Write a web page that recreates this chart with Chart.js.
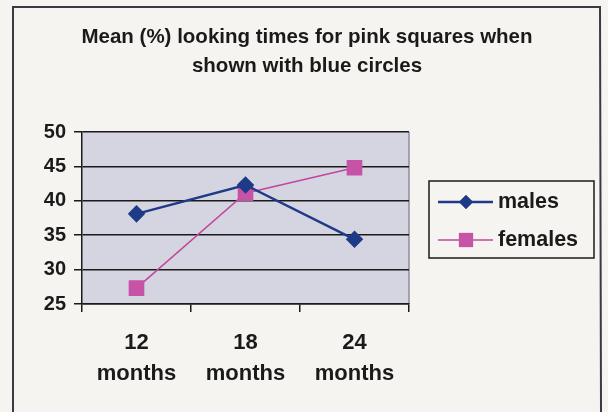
<!DOCTYPE html>
<html>
<head>
<meta charset="utf-8">
<script src="https://cdn.jsdelivr.net/npm/chart.js@4/dist/chart.umd.min.js"></script>
<style>
  html, body { margin: 0; padding: 0; background: #f6f4f0; }
  canvas { display: block; }
</style>
</head>
<body>
<canvas id="chart" width="608" height="412"></canvas>
<script>
// data
const categories = [['12', 'months'], ['18', 'months'], ['24', 'months']];
const males = [38.1, 42.3, 34.4];
const females = [27.3, 41.1, 44.8];
const yTicks = [25, 30, 35, 40, 45, 50];
const titleLines = ['Mean (%) looking times for pink squares when', 'shown with blue circles'];

const FONT = '"Liberation Sans", Arial, sans-serif';
const MALE_COLOR = '#1f3a86';
const FEMALE_COLOR = '#c2479c';
const INK = '#1a1a1a';

// page background, outer frame, title and the grey plot area
const backdrop = {
    id: 'backdrop',
    beforeDraw(chart) {
        const ctx = chart.ctx;
        const a = chart.chartArea;
        ctx.save();
        ctx.fillStyle = '#f6f4f0';
        ctx.fillRect(0, 0, chart.width, chart.height);
        ctx.strokeStyle = '#3a3a44';
        ctx.lineWidth = 2;
        ctx.beginPath();
        ctx.moveTo(13, 412);
        ctx.lineTo(13, 7);
        ctx.lineTo(600, 7);
        ctx.lineTo(601, 412);
        ctx.stroke();

        // title is centred on the whole frame, not on the plot
        ctx.fillStyle = INK;
        ctx.font = 'bold 20.5px ' + FONT;
        ctx.textAlign = 'center';
        ctx.textBaseline = 'middle';
        titleLines.forEach((t, i) => ctx.fillText(t, 307, 37 + i * 29));

        ctx.fillStyle = '#d4d5e1';
        ctx.fillRect(a.left, a.top, a.right - a.left, a.bottom - a.top);
        ctx.strokeStyle = '#8c8c9c';
        ctx.lineWidth = 1.5;
        ctx.beginPath();
        ctx.moveTo(a.right, a.top);
        ctx.lineTo(a.right, a.bottom);
        ctx.stroke();
        ctx.restore();
    }
};

// legend box with line + marker samples, like the spreadsheet one
const sideLegend = {
    id: 'sideLegend',
    afterDraw(chart) {
        const ctx = chart.ctx;
        ctx.save();
        ctx.strokeStyle = INK;
        ctx.lineWidth = 1.5;
        ctx.strokeRect(429, 181, 165, 77);
        const rows = [[202, 0], [240, 1]];
        rows.forEach(([y, i]) => {
            const ds = chart.data.datasets[i];
            ctx.strokeStyle = ds.borderColor;
            ctx.lineWidth = ds.borderWidth;
            ctx.beginPath();
            ctx.moveTo(438, y);
            ctx.lineTo(493, y);
            ctx.stroke();
            ctx.fillStyle = ds.pointBackgroundColor;
            Chart.helpers.drawPoint(ctx, {
                pointStyle: ds.pointStyle,
                radius: ds.pointRadius,
                borderWidth: 0,
                rotation: 0
            }, 466, y);
            ctx.fill();
            ctx.fillStyle = INK;
            ctx.font = 'bold 21.5px ' + FONT;
            ctx.textBaseline = 'middle';
            ctx.textAlign = 'left';
            ctx.fillText(ds.label, 498, y);
        });
        ctx.restore();
    }
};

new Chart(document.getElementById('chart'), {
    type: 'line',
    data: {
        labels: categories,
        datasets: [{
            label: 'males',
            data: males,
            borderColor: MALE_COLOR,
            backgroundColor: MALE_COLOR,
            pointBackgroundColor: MALE_COLOR,
            pointBorderColor: MALE_COLOR,
            borderWidth: 2.5,
            pointStyle: 'rectRot',
            pointRadius: 7,
            pointHoverRadius: 7,
            tension: 0
        }, {
            label: 'females',
            data: females,
            borderColor: FEMALE_COLOR,
            backgroundColor: '#c653a6',
            pointBackgroundColor: '#c653a6',
            pointBorderColor: '#c653a6',
            borderWidth: 1.5,
            pointStyle: 'rect',
            pointRadius: 10,
            pointHoverRadius: 10,
            tension: 0
        }]
    },
    options: {
        responsive: false,
        animation: false,
        devicePixelRatio: 1,
        layout: { padding: { left: 0, right: 199, top: 132, bottom: 0 } },
        plugins: {
            legend: { display: false },
            tooltip: { enabled: false },
            title: { display: false }
        },
        scales: {
            x: {
                offset: true,
                afterFit: (s) => { s.height = 108; },
                grid: {
                    offset: true,
                    drawOnChartArea: false,
                    drawTicks: true,
                    tickLength: 8,
                    tickColor: INK,
                    lineWidth: 1.5
                },
                border: { display: true, color: INK, width: 1.5 },
                ticks: {
                    color: INK,
                    padding: 16,
                    maxRotation: 0,
                    autoSkip: false,
                    font: { family: FONT, size: 22, weight: 'bold', lineHeight: 1.38 }
                }
            },
            y: {
                min: yTicks[0],
                max: yTicks[yTicks.length - 1],
                afterFit: (s) => { s.width = 82; },
                afterBuildTicks: (s) => { s.ticks = yTicks.map(v => ({ value: v })); },
                grid: {
                    color: INK,
                    lineWidth: 1.5,
                    tickLength: 8,
                    tickColor: INK
                },
                border: { display: true, color: INK, width: 1.5 },
                ticks: {
                    color: INK,
                    padding: 8,
                    font: { family: FONT, size: 20, weight: 'bold' }
                }
            }
        }
    },
    plugins: [backdrop, sideLegend]
});
</script>
</body>
</html>
